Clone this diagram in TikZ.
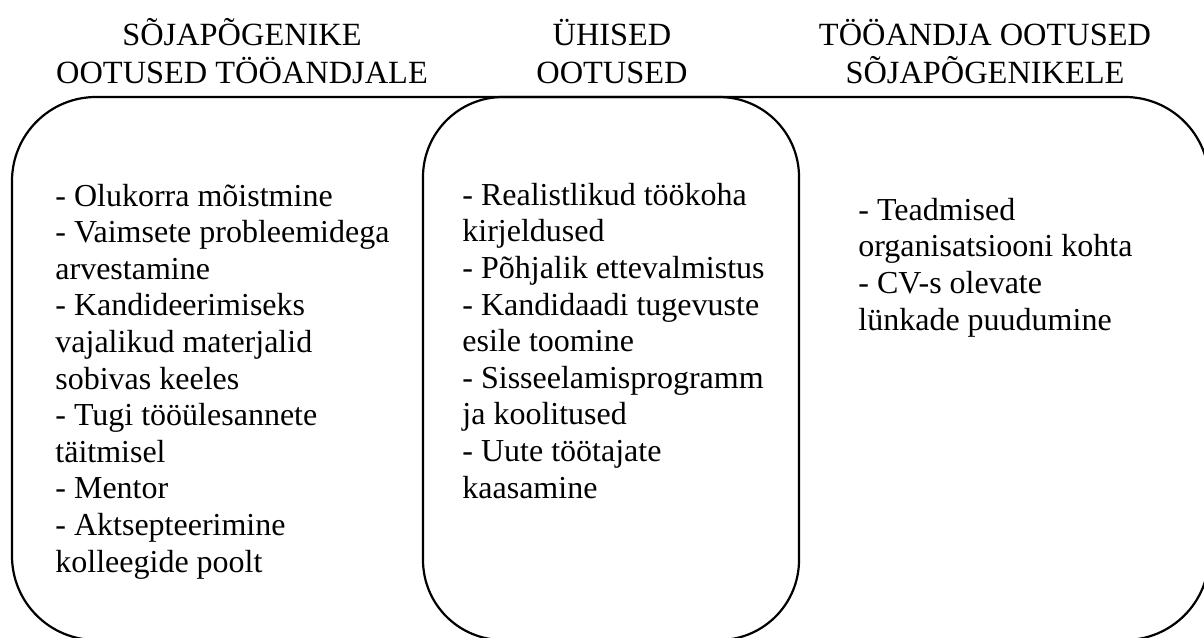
\documentclass[tikz,border=0pt]{standalone}
\usepackage{fontspec}
\setmainfont{Liberation Serif}
\usepackage{tikz}
\usetikzlibrary{positioning}

\tikzset{
  kast/.style={line width=1.1pt, rounded corners=42pt},
  pealkiri/.style={align=center, anchor=base, inner sep=0pt,
    font=\fontsize{16.2}{18.5}\selectfont},
  loend/.style={align=left, anchor=base west, inner sep=0pt,
    font=\fontsize{16}{18.3}\selectfont}
}

\begin{document}
\begin{tikzpicture}[x=0.5pt,y=-0.5pt]
\useasboundingbox (0,0) rectangle (1204,637);

% suur kast ja keskmine kast
\draw[kast] (12,97) rectangle (1209,640);
\draw[kast, rounded corners=40pt] (423,97) rectangle (799,640);

% pealkirjad (base = viimase rea alus)
\node[pealkiri] (pealkVasak) at (242,83) {SÕJAPÕGENIKE\\OOTUSED TÖÖANDJALE};
\node[pealkiri] (pealkKesk) at (612,83) {ÜHISED\\OOTUSED};
\node[pealkiri] (pealkParem) at (985,83) {TÖÖANDJA OOTUSED\\SÕJAPÕGENIKELE};

% loendid
\node[loend] (loendVasak) at (55,572) {- Olukorra mõistmine\\
- Vaimsete probleemidega\\
arvestamine\\
- Kandideerimiseks\\
vajalikud materjalid\\
sobivas keeles\\
- Tugi tööülesannete\\
täitmisel\\
- Mentor\\
- Aktsepteerimine\\
kolleegide poolt};

\node[loend] (loendKesk) at (462,498) {- Realistlikud töökoha\\
kirjeldused\\
- Põhjalik ettevalmistus\\
- Kandidaadi tugevuste\\
esile toomine\\
- Sisseelamisprogramm\\
ja koolitused\\
- Uute töötajate\\
kaasamine};

\node[loend] (loendParem) at (858,330) {- Teadmised\\
organisatsiooni kohta\\
- CV-s olevate\\
lünkade puudumine};

\end{tikzpicture}
\end{document}
